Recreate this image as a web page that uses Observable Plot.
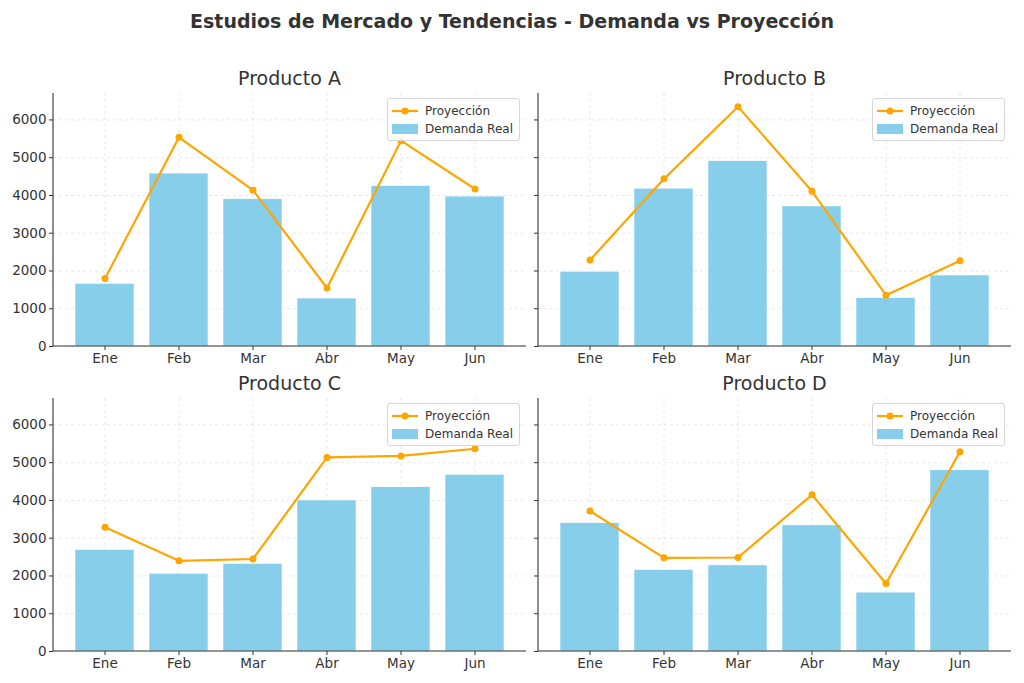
<!DOCTYPE html>
<html>
<head>
<meta charset="utf-8">
<script src="https://cdn.jsdelivr.net/npm/d3@7"></script>
<script src="https://cdn.jsdelivr.net/npm/@observablehq/plot@0.6"></script>
<style>
  html, body { margin: 0; padding: 0; background: #fff; }
  body { width: 1024px; height: 683px; position: relative; overflow: hidden; font-family: "DejaVu Sans", sans-serif; color: #333; }
  .title { position: absolute; left: 0; width: 1024px; top: 10px; text-align: center; font-weight: bold; font-size: 19px; color: #333; }
  .subtitle { position: absolute; text-align: center; font-size: 19px; color: #333; }
  .panel { position: absolute; }
  .panel svg text { font-size: 13.5px !important; fill: #333; }
  .legend { position: absolute; background: rgba(255,255,255,0.85); border: 1px solid #d6d6d6; border-radius: 3px; padding: 3px 6px 2px 4px; font-size: 12px; color: #333; }
  .legend .row { display: flex; align-items: center; height: 18px; }
  .legend .sym { width: 26px; height: 12px; margin-right: 7px; position: relative; }
</style>
</head>
<body>
<div class="title">Estudios de Mercado y Tendencias - Demanda vs Proyección</div>
<div id="root"></div>
<script>
const meses = ["Ene", "Feb", "Mar", "Abr", "May", "Jun"];
const productos = ["Producto A", "Producto B", "Producto C", "Producto D"];
const demandaA = [1660, 4580, 3900, 1270, 4250, 3970];
const proyeccionA = [1800, 5540, 4140, 1550, 5450, 4170];
const demandaB = [1980, 4180, 4910, 3710, 1280, 1880];
const proyeccionB = [2290, 4440, 6350, 4110, 1360, 2270];
const demandaC = [2690, 2060, 2320, 4000, 4350, 4680];
const proyeccionC = [3290, 2400, 2450, 5140, 5180, 5370];
const demandaD = [3400, 2160, 2280, 3340, 1560, 4800];
const proyeccionD = [3720, 2480, 2490, 4150, 1800, 5290];
const yTicks = [0, 1000, 2000, 3000, 4000, 5000, 6000];
const serieLabels = ["Proyección", "Demanda Real"];

const demandas = [demandaA, demandaB, demandaC, demandaD];
const proyecciones = [proyeccionA, proyeccionB, proyeccionC, proyeccionD];

const BAR = "#87CEEB", LINE = "#FFA500", AXIS = "#333";
const root = document.getElementById("root");

const panels = [
  {left: 0, top: 91, width: 530, ml: 53, mr: 4, labels: true},
  {left: 530, top: 91, width: 494, ml: 8, mr: 13, labels: false},
  {left: 0, top: 396, width: 530, ml: 53, mr: 4, labels: true},
  {left: 530, top: 396, width: 494, ml: 8, mr: 13, labels: false}
];

productos.forEach((name, i) => {
  const g = panels[i];
  const rows = meses.map((m, j) => ({mes: m, demanda: demandas[i][j], proyeccion: proyecciones[i][j]}));
  const mt = 2, mb = 32, h = 253 + mt + mb;
  const spine = (index, scales, values, dim) => {
    const s = d3.create("svg:g");
    s.append("line").attr("x1", dim.marginLeft).attr("x2", dim.marginLeft)
      .attr("y1", dim.marginTop).attr("y2", dim.height - dim.marginBottom)
      .attr("stroke", AXIS).attr("stroke-width", 1.1);
    s.append("line").attr("x1", dim.marginLeft).attr("x2", dim.width - dim.marginRight)
      .attr("y1", dim.height - dim.marginBottom).attr("y2", dim.height - dim.marginBottom)
      .attr("stroke", AXIS).attr("stroke-width", 1.1);
    return s.node();
  };
  const chart = Plot.plot({
    width: g.width, height: h,
    marginTop: mt, marginBottom: mb, marginLeft: g.ml, marginRight: g.mr,
    style: {fontFamily: "DejaVu Sans, sans-serif", fontSize: "13.5px", color: AXIS, background: "transparent", overflow: "visible"},
    x: {domain: meses, paddingInner: 0.2, paddingOuter: 0.2875, label: null},
    y: {domain: [0, 6700], label: null},
    marks: [
      Plot.gridY(yTicks, {stroke: "#b0b0b0", strokeOpacity: 0.35, strokeDasharray: "3,3", strokeWidth: 0.8}),
      Plot.gridX(meses, {stroke: "#b0b0b0", strokeOpacity: 0.35, strokeDasharray: "3,3", strokeWidth: 0.8}),
      Plot.barY(rows, {x: "mes", y: "demanda", fill: BAR, stroke: "#fff", strokeWidth: 0.6}),
      Plot.lineY(rows, {x: "mes", y: "proyeccion", stroke: LINE, strokeWidth: 2.2}),
      Plot.dot(rows, {x: "mes", y: "proyeccion", fill: LINE, r: 3.5}),
      Plot.axisY(yTicks, {tickSize: 4, tickPadding: 3, stroke: AXIS,
        tickFormat: g.labels ? (d => String(d)) : (() => ""), label: null}),
      Plot.axisX({tickSize: 4, tickPadding: 3, stroke: AXIS, label: null}),
      spine
    ]
  });
  const wrap = document.createElement("div");
  wrap.className = "panel";
  wrap.style.left = g.left + "px";
  wrap.style.top = g.top + "px";
  wrap.appendChild(chart);
  root.appendChild(wrap);

  const axLeft = g.left + g.ml, axRight = g.left + g.width - g.mr;
  const t = document.createElement("div");
  t.className = "subtitle";
  t.textContent = name;
  t.style.left = axLeft + "px";
  t.style.width = (axRight - axLeft) + "px";
  t.style.top = (g.top - 24) + "px";
  root.appendChild(t);

  const lg = document.createElement("div");
  lg.className = "legend";
  lg.style.right = (1024 - axRight + 6) + "px";
  lg.style.top = (g.top + 7) + "px";
  lg.innerHTML =
    `<div class="row"><svg class="sym" width="26" height="12"><line x1="0" x2="26" y1="6" y2="6" stroke="${LINE}" stroke-width="2.2"/><circle cx="13" cy="6" r="3.5" fill="${LINE}"/></svg><span>${serieLabels[0]}</span></div>` +
    `<div class="row"><svg class="sym" width="26" height="12"><rect x="0" y="1" width="26" height="10" fill="${BAR}"/></svg><span>${serieLabels[1]}</span></div>`;
  root.appendChild(lg);
});
</script>
</body>
</html>
